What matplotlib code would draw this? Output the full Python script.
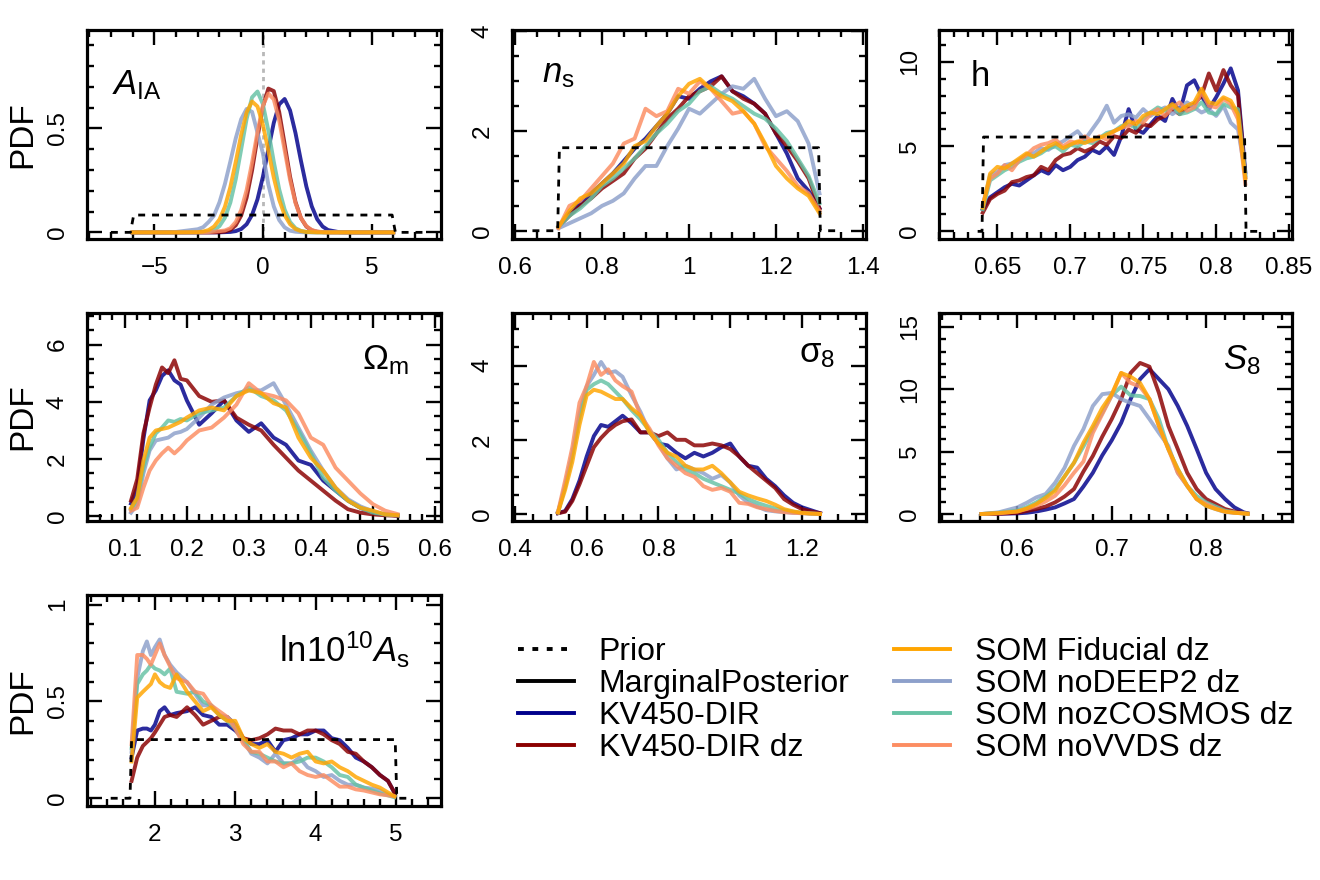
import matplotlib
matplotlib.use("Agg")
import matplotlib.pyplot as plt
from matplotlib.ticker import MultipleLocator, FuncFormatter
from matplotlib.lines import Line2D

plt.rcParams['font.family'] = ['Liberation Sans', 'DejaVu Sans']
plt.rcParams['mathtext.fontset'] = 'custom'
plt.rcParams['mathtext.rm'] = 'Liberation Sans'
plt.rcParams['mathtext.it'] = 'Liberation Sans:italic'
plt.rcParams['mathtext.bf'] = 'Liberation Sans:bold'

# ---------------- data ----------------
SERIES = ["KV450-DIR", "KV450-DIR dz", "SOM noDEEP2 dz", "SOM nozCOSMOS dz",
          "SOM noVVDS dz", "SOM Fiducial dz"]
COLORS = ["#00008B", "#8B0000", "#8DA0CB", "#66C2A5", "#FC8D62", "#FFA500"]

# A_IA
AIA_x = [-6, -4, -3, -2.75, -2.5, -2.25, -2, -1.75, -1.5, -1.25, -1, -0.75, -0.5, -0.25, 0,
         0.25, 0.5, 0.75, 1, 1.25, 1.5, 1.75, 2, 2.25, 2.5, 2.75, 3, 3.5, 4, 6]
AIA_kv = [0, 0, 0, 0, 0, 0, 0, 0.001, 0.002, 0.006, 0.016, 0.039, 0.084, 0.159, 0.268,
          0.399, 0.527, 0.616, 0.642, 0.587, 0.478, 0.345, 0.221, 0.125, 0.063, 0.028, 0.011, 0.001, 0, 0]
AIA_kvdz = [0, 0, 0, 0, 0, 0, 0.001, 0.004, 0.012, 0.034, 0.081, 0.167, 0.298, 0.457, 0.605,
            0.692, 0.68, 0.579, 0.425, 0.268, 0.146, 0.069, 0.028, 0.010, 0.003, 0.001, 0, 0, 0, 0]
AIA_nodeep2 = [0, 0.002, 0.015, 0.025, 0.05, 0.081, 0.145, 0.233, 0.341, 0.453, 0.545, 0.594, 0.58, 0.48, 0.38,
               0.23, 0.125, 0.059, 0.024, 0.008, 0.003, 0.001, 0, 0, 0, 0, 0, 0, 0, 0]
AIA_nocosmos = [0, 0, 0, 0.001, 0.003, 0.011, 0.03, 0.07, 0.143, 0.256, 0.40, 0.546, 0.65, 0.678, 0.617,
                0.49, 0.34, 0.207, 0.11, 0.05, 0.02, 0.007, 0.002, 0.001, 0, 0, 0, 0, 0, 0]
AIA_novvds = [0, 0, 0, 0, 0.001, 0.003, 0.006, 0.009, 0.02, 0.05, 0.108, 0.204, 0.336, 0.483, 0.61,
              0.668, 0.64, 0.538, 0.395, 0.252, 0.141, 0.069, 0.03, 0.011, 0.004, 0.001, 0, 0, 0, 0]
AIA_fid = [0, 0, 0.001, 0.004, 0.011, 0.028, 0.062, 0.123, 0.218, 0.34, 0.47, 0.578, 0.63, 0.606, 0.518,
           0.393, 0.264, 0.157, 0.083, 0.039, 0.016, 0.006, 0.002, 0.001, 0, 0, 0, 0, 0, 0]
AIA_prior_x = [-7.0, -6.1, -5.95, 5.95, 6.1, 7.5]
AIA_prior_y = [0, 0, 1 / 12, 1 / 12, 0, 0]

# n_s
NS_x = [0.700, 0.725, 0.750, 0.775, 0.800, 0.825, 0.850, 0.875, 0.900, 0.925, 0.950, 0.975, 1.000,
        1.025, 1.050, 1.075, 1.100, 1.125, 1.150, 1.175, 1.200, 1.225, 1.250, 1.275, 1.300]
NS_kv = [0.08, 0.35, 0.55, 0.75, 0.95, 1.15, 1.40, 1.65, 1.85, 2.10, 2.35, 2.70, 2.65,
         2.85, 3.00, 3.10, 2.80, 2.70, 2.55, 2.35, 1.95, 1.55, 1.05, 0.80, 0.45]
NS_kvdz = [0.08, 0.30, 0.50, 0.65, 0.85, 1.00, 1.15, 1.45, 1.65, 1.95, 2.25, 2.45, 2.70,
           2.80, 2.90, 3.10, 2.80, 2.65, 2.55, 2.35, 1.95, 1.70, 1.40, 1.05, 0.45]
NS_nodeep2 = [0.05, 0.15, 0.25, 0.35, 0.50, 0.60, 0.75, 1.05, 1.30, 1.30, 1.70, 2.05, 2.45,
              2.35, 2.55, 2.75, 2.90, 2.85, 3.05, 2.65, 2.30, 2.40, 2.20, 1.75, 0.75]
NS_nocosmos = [0.08, 0.30, 0.45, 0.65, 0.90, 1.05, 1.25, 1.45, 1.70, 1.95, 2.15, 2.40, 2.55,
               2.80, 2.90, 2.75, 2.65, 2.50, 2.35, 2.25, 2.05, 1.80, 1.45, 1.10, 0.55]
NS_novvds = [0.05, 0.50, 0.60, 0.85, 1.10, 1.35, 1.75, 1.85, 2.45, 2.30, 2.40, 2.85, 2.75,
             3.00, 2.85, 2.60, 2.35, 2.40, 2.15, 1.70, 1.45, 1.20, 0.90, 0.75, 0.40]
NS_fid = [0.08, 0.40, 0.65, 0.75, 0.95, 1.15, 1.35, 1.70, 1.80, 2.10, 2.35, 2.70, 2.95,
          3.05, 2.85, 2.70, 2.60, 2.40, 2.15, 1.75, 1.30, 1.05, 0.85, 0.70, 0.35]
NS_prior_x = [0.64, 0.698, 0.702, 1.298, 1.302, 1.35]
NS_prior_y = [0, 0, 1 / 0.6, 1 / 0.6, 0, 0]

# h
H_x = [0.640, 0.645, 0.650, 0.655, 0.660, 0.665, 0.670, 0.675, 0.680, 0.685, 0.690, 0.695, 0.700,
       0.705, 0.710, 0.715, 0.720, 0.725, 0.730, 0.735, 0.740, 0.745, 0.750, 0.755, 0.760, 0.765,
       0.770, 0.775, 0.780, 0.785, 0.790, 0.795, 0.800, 0.805, 0.810, 0.815, 0.820]
H_kv = [1.3, 2.0, 2.3, 2.6, 2.8, 2.7, 3.0, 3.3, 3.6, 3.4, 3.9, 3.6, 3.8, 4.2, 4.4, 4.8, 4.6, 5.0,
        4.5, 5.6, 7.2, 6.0, 5.8, 6.3, 6.8, 6.5, 7.8, 7.0, 8.6, 8.9, 8.0, 7.2, 7.9, 8.7, 9.6, 8.3, 3.5]
H_kvdz = [1.1, 1.9, 2.2, 2.4, 2.9, 3.0, 3.2, 3.3, 3.8, 3.6, 4.2, 4.5, 4.6, 4.9, 4.7, 4.9, 5.3, 5.1,
          5.6, 5.5, 6.0, 5.8, 6.3, 6.2, 6.6, 6.8, 7.2, 6.9, 7.3, 7.5, 8.0, 9.3, 8.3, 9.5, 8.6, 8.0, 3.2]
H_nodeep2 = [1.5, 3.3, 3.5, 3.9, 4.0, 4.2, 4.5, 4.6, 4.9, 4.8, 5.1, 5.3, 5.6, 5.9, 5.4, 6.0, 6.6, 7.4,
             6.4, 6.8, 6.9, 6.7, 7.2, 6.8, 7.1, 7.3, 6.9, 7.2, 7.6, 7.3, 7.0, 7.2, 6.8, 7.4, 6.4, 6.0, 3.4]
H_nocosmos = [1.3, 3.0, 3.3, 3.6, 3.8, 4.1, 4.3, 4.4, 4.6, 4.9, 5.0, 4.7, 5.1, 5.0, 5.3, 5.2, 5.5, 5.8,
              5.9, 6.2, 6.3, 6.1, 6.6, 7.0, 7.3, 7.1, 7.4, 6.9, 7.0, 7.2, 7.6, 7.0, 6.9, 7.5, 7.3, 7.2, 3.3]
H_novvds = [1.6, 3.1, 3.4, 3.9, 3.6, 4.2, 4.5, 4.9, 5.1, 5.2, 5.4, 5.0, 5.3, 5.2, 5.6, 5.3, 5.6, 5.4,
            5.9, 6.1, 6.2, 6.5, 6.4, 6.9, 7.2, 6.8, 7.3, 7.6, 7.1, 7.3, 8.2, 7.4, 7.3, 7.8, 7.5, 6.6, 2.8]
H_fid = [1.4, 3.4, 3.8, 3.7, 4.0, 4.3, 4.6, 4.4, 4.7, 5.0, 5.2, 4.9, 5.1, 5.3, 5.2, 5.4, 5.5, 5.7,
         5.9, 6.1, 6.5, 6.3, 6.8, 7.0, 6.9, 7.2, 7.5, 7.1, 7.4, 7.6, 8.4, 7.6, 7.5, 7.9, 7.7, 6.9, 3.1]
H_prior_x = [0.6365, 0.6395, 0.6405, 0.8195, 0.8205, 0.829]
H_prior_y = [0, 0, 1 / 0.18, 1 / 0.18, 0, 0]

# Omega_m
OM_x = [0.11, 0.12, 0.13, 0.14, 0.15, 0.16, 0.17, 0.18, 0.19, 0.20, 0.22, 0.24, 0.26, 0.28,
        0.30, 0.32, 0.34, 0.36, 0.38, 0.40, 0.42, 0.44, 0.46, 0.48, 0.50, 0.52, 0.54]
OM_kv = [0.45, 1.0, 2.7, 4.05, 4.4, 4.9, 5.1, 4.75, 4.6, 4.05, 3.2, 3.6, 4.05, 3.35,
         2.95, 3.25, 2.75, 2.5, 1.95, 1.8, 1.25, 0.9, 0.55, 0.3, 0.13, 0.07, 0.03]
OM_kvdz = [0.55, 1.3, 2.9, 3.8, 4.6, 5.2, 5.0, 5.45, 4.8, 4.75, 4.2, 4.0, 4.05, 3.45,
           3.2, 3.0, 2.5, 2.05, 1.6, 1.25, 0.9, 0.55, 0.25, 0.13, 0.07, 0.04, 0.02]
OM_nodeep2 = [0.13, 0.43, 1.5, 2.3, 2.65, 2.7, 2.75, 2.9, 2.95, 3.05, 3.45, 3.9, 4.15, 4.3,
              4.4, 4.4, 4.65, 3.9, 3.1, 2.3, 1.6, 1.0, 0.6, 0.35, 0.18, 0.07, 0.04]
OM_nocosmos = [0.25, 0.6, 1.7, 2.4, 2.9, 3.1, 3.35, 3.3, 3.4, 3.35, 3.6, 3.7, 3.8, 4.2,
               4.5, 4.2, 4.05, 3.7, 3.0, 2.2, 1.35, 0.9, 0.55, 0.3, 0.13, 0.07, 0.04]
OM_novvds = [0.2, 0.3, 1.0, 1.6, 1.95, 2.2, 2.4, 2.2, 2.4, 2.65, 3.0, 3.1, 3.45, 3.9,
             4.65, 4.3, 4.2, 4.05, 3.6, 2.75, 2.5, 1.7, 1.25, 0.8, 0.43, 0.2, 0.08]
OM_fid = [0.3, 0.65, 1.95, 2.75, 3.0, 3.05, 3.1, 3.2, 3.3, 3.45, 3.7, 3.8, 3.7, 4.2,
          4.4, 4.3, 3.95, 3.8, 2.75, 2.05, 1.6, 1.0, 0.55, 0.3, 0.2, 0.07, 0.04]

# sigma_8
SIG_x = [0.52, 0.54, 0.56, 0.58, 0.60, 0.62, 0.64, 0.66, 0.68, 0.70, 0.725, 0.75, 0.775, 0.80,
         0.825, 0.85, 0.875, 0.90, 0.925, 0.95, 0.975, 1.0, 1.025, 1.05, 1.075, 1.1, 1.125, 1.15,
         1.175, 1.2, 1.225, 1.25]
SIG_kv = [0.02, 0.08, 0.4, 0.9, 1.55, 2.1, 2.4, 2.35, 2.5, 2.65, 2.45, 2.2, 2.2, 1.9, 1.85, 1.65,
          1.5, 1.65, 1.55, 1.65, 1.8, 1.9, 1.55, 1.3, 1.25, 0.95, 0.75, 0.5, 0.3, 0.18, 0.1, 0.02]
SIG_kvdz = [0.02, 0.06, 0.35, 0.8, 1.3, 1.8, 2.05, 2.25, 2.4, 2.5, 2.55, 2.2, 2.2, 2.1, 2.2, 2.0,
            2.0, 1.85, 1.85, 1.9, 1.85, 1.75, 1.55, 1.3, 1.1, 0.9, 0.7, 0.4, 0.25, 0.13, 0.07, 0.02]
SIG_nodeep2 = [0.04, 0.75, 1.6, 2.7, 3.45, 3.75, 4.1, 3.8, 3.85, 3.7, 3.2, 2.75, 2.2, 1.9, 1.5, 1.2,
               1.3, 1.2, 1.1, 0.95, 1.05, 0.85, 0.5, 0.3, 0.2, 0.1, 0.07, 0.05, 0.03, 0.02, 0.01, 0.0]
SIG_nocosmos = [0.04, 0.75, 1.6, 2.6, 3.35, 3.5, 3.6, 3.5, 3.3, 3.1, 2.8, 2.55, 2.25, 2.0, 1.65, 1.4,
                1.2, 1.1, 0.95, 0.85, 0.75, 0.65, 0.55, 0.4, 0.3, 0.22, 0.15, 0.1, 0.06, 0.03, 0.01, 0.0]
SIG_novvds = [0.05, 0.9, 1.8, 3.0, 3.45, 4.1, 3.75, 3.9, 3.6, 3.45, 3.3, 2.65, 2.3, 1.85, 1.5, 1.3,
              1.1, 1.0, 0.75, 0.65, 0.7, 0.6, 0.3, 0.27, 0.18, 0.13, 0.08, 0.05, 0.03, 0.02, 0.01, 0.0]
SIG_fid = [0.04, 0.65, 1.4, 2.4, 3.2, 3.35, 3.3, 3.2, 3.1, 3.1, 2.85, 2.65, 2.2, 1.9, 1.65, 1.55,
           1.3, 1.2, 1.2, 1.3, 1.1, 0.85, 0.6, 0.5, 0.42, 0.35, 0.25, 0.13, 0.07, 0.03, 0.01, 0.0]

# S_8
S8_x = [0.562, 0.58, 0.60, 0.61, 0.62, 0.63, 0.64, 0.65, 0.66, 0.67, 0.68, 0.69, 0.70, 0.71,
        0.72, 0.73, 0.74, 0.75, 0.76, 0.77, 0.78, 0.79, 0.80, 0.81, 0.82, 0.83, 0.84, 0.844]
S8_kv = [0, 0.02, 0.05, 0.1, 0.2, 0.35, 0.53, 0.85, 1.2, 2.2, 3.3, 4.7, 5.9, 7.3,
         9.2, 10.8, 11.6, 10.8, 10.0, 8.65, 7.05, 5.2, 3.3, 2.0, 1.2, 0.53, 0.13, 0.05]
S8_kvdz = [0, 0.02, 0.1, 0.25, 0.4, 0.6, 0.93, 1.4, 2.0, 3.4, 4.65, 6.2, 7.6, 9.2,
           11.3, 12.1, 11.8, 9.7, 7.05, 5.2, 3.3, 2.0, 1.2, 0.8, 0.4, 0.2, 0.08, 0.04]
S8_nodeep2 = [0, 0.13, 0.53, 0.9, 1.33, 1.6, 2.5, 3.7, 5.45, 6.8, 8.65, 9.6, 9.7, 9.2,
              8.9, 8.65, 7.6, 6.5, 5.45, 3.3, 2.25, 1.2, 0.66, 0.4, 0.15, 0.1, 0.05, 0.02]
S8_nocosmos = [0, 0.1, 0.27, 0.55, 0.93, 1.4, 2.0, 3.0, 4.1, 5.4, 6.8, 8.1, 9.5, 10.2,
               9.5, 9.45, 9.2, 7.6, 5.2, 3.6, 2.25, 1.45, 0.93, 0.6, 0.27, 0.12, 0.05, 0.02]
S8_novvds = [0, 0.05, 0.2, 0.4, 0.66, 1.0, 1.46, 2.3, 3.3, 4.2, 6.5, 8.0, 9.5, 11.3,
             10.5, 10.2, 9.2, 7.05, 5.2, 3.3, 2.25, 1.2, 0.8, 0.45, 0.2, 0.1, 0.05, 0.02]
S8_fid = [0, 0.08, 0.2, 0.45, 0.8, 1.3, 1.86, 3.0, 4.1, 5.7, 7.05, 8.5, 9.6, 11.3,
          11.0, 10.5, 9.2, 7.05, 5.2, 3.6, 2.25, 1.2, 0.66, 0.4, 0.19, 0.1, 0.04, 0.02]

# ln(10^10 A_s)
AS_x = [1.71, 1.78, 1.85, 1.9, 1.95, 2.0, 2.06, 2.12, 2.19, 2.27, 2.4, 2.5, 2.6, 2.7, 2.8, 2.9,
        3.0, 3.1, 3.2, 3.3, 3.4, 3.5, 3.6, 3.7, 3.8, 3.9, 4.0, 4.1, 4.2, 4.3, 4.4, 4.5, 4.6,
        4.7, 4.8, 4.9, 4.98]
AS_kv = [0.21, 0.35, 0.36, 0.36, 0.35, 0.38, 0.45, 0.47, 0.43, 0.44, 0.45, 0.47, 0.43, 0.42, 0.38,
         0.38, 0.35, 0.31, 0.28, 0.28, 0.3, 0.24, 0.3, 0.31, 0.33, 0.33, 0.35, 0.35, 0.31, 0.3,
         0.26, 0.21, 0.19, 0.16, 0.12, 0.09, 0.03]
AS_kvdz = [0.09, 0.21, 0.27, 0.29, 0.31, 0.34, 0.38, 0.42, 0.43, 0.42, 0.47, 0.43, 0.38, 0.4, 0.42,
           0.42, 0.38, 0.31, 0.3, 0.31, 0.33, 0.36, 0.35, 0.35, 0.33, 0.35, 0.35, 0.33, 0.3, 0.28,
           0.24, 0.23, 0.19, 0.16, 0.12, 0.09, 0.03]
AS_nodeep2 = [0.24, 0.62, 0.76, 0.81, 0.74, 0.78, 0.82, 0.74, 0.69, 0.65, 0.6, 0.54, 0.48, 0.48, 0.43,
              0.42, 0.38, 0.3, 0.23, 0.21, 0.18, 0.23, 0.18, 0.18, 0.21, 0.16, 0.14, 0.11, 0.12, 0.09,
              0.07, 0.07, 0.055, 0.05, 0.04, 0.02, 0.01]
AS_nocosmos = [0.26, 0.59, 0.64, 0.66, 0.69, 0.67, 0.66, 0.64, 0.67, 0.55, 0.54, 0.55, 0.5, 0.48, 0.43,
               0.40, 0.36, 0.3, 0.24, 0.23, 0.21, 0.19, 0.18, 0.18, 0.19, 0.21, 0.21, 0.19, 0.16, 0.12,
               0.11, 0.07, 0.055, 0.04, 0.025, 0.015, 0.005]
AS_novvds = [0.28, 0.74, 0.74, 0.72, 0.69, 0.74, 0.80, 0.74, 0.68, 0.62, 0.6, 0.55, 0.54, 0.48, 0.45,
             0.42, 0.36, 0.28, 0.24, 0.24, 0.19, 0.19, 0.16, 0.18, 0.14, 0.12, 0.11, 0.12, 0.09, 0.06,
             0.06, 0.046, 0.04, 0.03, 0.02, 0.015, 0.01]
AS_fid = [0.19, 0.52, 0.55, 0.57, 0.59, 0.64, 0.60, 0.58, 0.57, 0.64, 0.55, 0.5, 0.45, 0.47, 0.43,
          0.4, 0.4, 0.31, 0.28, 0.26, 0.28, 0.24, 0.23, 0.21, 0.23, 0.24, 0.19, 0.18, 0.19, 0.16,
          0.14, 0.11, 0.09, 0.07, 0.055, 0.03, 0.01]
AS_prior_x = [1.45, 1.69, 1.71, 4.99, 5.01, 5.2]
AS_prior_y = [0, 0, 1 / 3.3, 1 / 3.3, 0, 0]

# ---------------- figure ----------------
W, H = 1320, 880
fig = plt.figure(figsize=(13.2, 8.8), dpi=100)


def rect(l, t, r, b):
    return [l / W, 1 - b / H, (r - l) / W, (b - t) / H]


def fmt(v, pos):
    s = f"{round(v, 6):g}"
    return s.replace("-", "\u2212")


panels = [
    dict(rect=rect(87, 30, 441, 239), x=AIA_x,
         ys=[AIA_kv, AIA_kvdz, AIA_nodeep2, AIA_nocosmos, AIA_novvds, AIA_fid],
         px=AIA_prior_x, py=AIA_prior_y, xlim=(-8.1, 8.2), ylim=(-0.032, 0.974),
         xmaj=5, xmin=1, ymaj=0.5, ymin=0.1, label=r"$A_{\mathrm{IA}}$", lx=0.07, ly=0.69,
         ha="left", pdf=True),
    dict(rect=rect(512, 30, 866, 239), x=NS_x,
         ys=[NS_kv, NS_kvdz, NS_nodeep2, NS_nocosmos, NS_novvds, NS_fid],
         px=NS_prior_x, py=NS_prior_y, xlim=(0.593, 1.407), ylim=(-0.166, 4.03),
         xmaj=0.2, xmin=0.05, ymaj=2, ymin=0.5, label=r"$n_{\mathrm{s}}$", lx=0.085, ly=0.75,
         ha="left", pdf=False),
    dict(rect=rect(939, 30, 1292, 239), x=H_x,
         ys=[H_kv, H_kvdz, H_nodeep2, H_nocosmos, H_novvds, H_fid],
         px=H_prior_x, py=H_prior_y, xlim=(0.610, 0.852), ylim=(-0.45, 11.86),
         xmaj=0.05, xmin=0.01, ymaj=5, ymin=1, label="h", lx=0.09, ly=0.73,
         ha="left", pdf=False),
    dict(rect=rect(87, 313, 441, 521), x=OM_x,
         ys=[OM_kv, OM_kvdz, OM_nodeep2, OM_nocosmos, OM_novvds, OM_fid],
         px=None, py=None, xlim=(0.039, 0.61), ylim=(-0.16, 7.1),
         xmaj=0.1, xmin=0.02, ymaj=2, ymin=0.5, label="\u03a9$_{\\mathrm{m}}$", lx=0.91, ly=0.73,
         ha="right", pdf=True),
    dict(rect=rect(512, 313, 866, 521), x=SIG_x,
         ys=[SIG_kv, SIG_kvdz, SIG_nodeep2, SIG_nocosmos, SIG_novvds, SIG_fid],
         px=None, py=None, xlim=(0.392, 1.378), ylim=(-0.19, 5.42),
         xmaj=0.2, xmin=0.05, ymaj=2, ymin=0.5, label="\u03c3$_{8}$", lx=0.912, ly=0.765,
         ha="right", pdf=False),
    dict(rect=rect(939, 313, 1292, 521), x=S8_x,
         ys=[S8_kv, S8_kvdz, S8_nodeep2, S8_nocosmos, S8_novvds, S8_fid],
         px=None, py=None, xlim=(0.517, 0.891), ylim=(-0.56, 16.1),
         xmaj=0.1, xmin=0.02, ymaj=5, ymin=1, label=r"$S_{8}$", lx=0.912, ly=0.727,
         ha="right", pdf=False),
    dict(rect=rect(87, 595, 441, 806), x=AS_x,
         ys=[AS_kv, AS_kvdz, AS_nodeep2, AS_nocosmos, AS_novvds, AS_fid],
         px=AS_prior_x, py=AS_prior_y, xlim=(1.155, 5.56), ylim=(-0.04, 1.05),
         xmaj=1, xmin=0.2, ymaj=0.5, ymin=0.1, label=r"ln10$^{10}$$A_{\mathrm{s}}$", lx=0.912, ly=0.68,
         ha="right", pdf=True),
]

for i, p in enumerate(panels):
    ax = fig.add_axes(p["rect"])
    if i == 0:
        ax.axvline(0, color="#b8b8b8", lw=2, ls=(0, (1.5, 1.5)), zorder=1)
    for y, c in zip(p["ys"], COLORS):
        ax.plot(p["x"], y, color=c, lw=2.8, alpha=0.83, solid_joinstyle="round", zorder=2)
    if p["px"] is not None:
        ax.plot(p["px"], p["py"], color="black", lw=2.0, ls=(0, (2.5, 2.5)), zorder=3)
    ax.set_xlim(*p["xlim"])
    ax.set_ylim(*p["ylim"])
    ax.xaxis.set_major_locator(MultipleLocator(p["xmaj"]))
    ax.xaxis.set_minor_locator(MultipleLocator(p["xmin"]))
    ax.yaxis.set_major_locator(MultipleLocator(p["ymaj"]))
    ax.yaxis.set_minor_locator(MultipleLocator(p["ymin"]))
    ax.xaxis.set_major_formatter(FuncFormatter(fmt))
    ax.yaxis.set_major_formatter(FuncFormatter(fmt))
    ax.tick_params(which="both", direction="in", top=True, right=True, width=1.7,
                   labelsize=17.5, pad=13, color="black")
    ax.tick_params(which="major", length=10.5)
    ax.tick_params(which="minor", length=5)
    ax.tick_params(axis="y", labelrotation=90)
    for lab in ax.get_yticklabels():
        lab.set_va("center")
    for s in ax.spines.values():
        s.set_linewidth(2.3)
    ax.text(p["lx"], p["ly"], p["label"], transform=ax.transAxes, fontsize=25,
            ha=p["ha"], va="baseline")
    if p["pdf"]:
        bb = p["rect"]
        fig.text(23 / W, bb[1] + bb[3] / 2, "PDF", rotation=90, fontsize=24,
                 ha="center", va="center")

# legend
handles = [
    Line2D([], [], color="black", lw=2.8, ls=(0, (1.5, 2.2))),
    Line2D([], [], color="black", lw=2.8),
    Line2D([], [], color=COLORS[0], lw=2.8),
    Line2D([], [], color=COLORS[1], lw=2.8),
    Line2D([], [], color=COLORS[5], lw=2.8),
    Line2D([], [], color=COLORS[2], lw=2.8),
    Line2D([], [], color=COLORS[3], lw=2.8),
    Line2D([], [], color=COLORS[4], lw=2.8),
]
labels = ["Prior", "MarginalPosterior", SERIES[0], SERIES[1],
          SERIES[5], SERIES[2], SERIES[3], SERIES[4]]
fig.legend(handles, labels, ncol=2, loc="upper left", bbox_to_anchor=(518 / W, 1 - 637 / H),
           frameon=False, fontsize=23, handlelength=1.75, handletextpad=0.78,
           columnspacing=1.4, labelspacing=0.06, borderpad=0, borderaxespad=0)

fig.savefig("out.png", dpi=100)
